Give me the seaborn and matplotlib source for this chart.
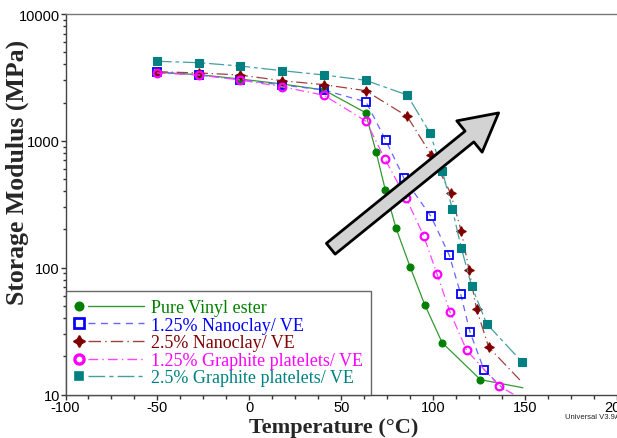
import numpy as np
import pandas as pd
import seaborn as sns
import matplotlib
matplotlib.use("Agg")
import matplotlib.pyplot as plt
from matplotlib.lines import Line2D
from matplotlib.legend_handler import HandlerLine2D
from matplotlib.ticker import MultipleLocator, LogLocator, NullFormatter, FixedLocator, FixedFormatter

# ---------------- data ----------------
series_names = ["Pure Vinyl ester", "1.25% Nanoclay/ VE", "2.5% Nanoclay/ VE",
                "1.25% Graphite platelets/ VE", "2.5% Graphite platelets/ VE"]

pure_T = [-50.4, -27.4, -5.2, 17.7, 40.5, 63.2, 68.9, 74.0, 79.8, 87.5, 95.4, 104.9, 125.7, 148.8]
pure_E = [3472, 3325, 3076, 2808, 2518, 1668, 822, 409, 205, 101, 51.1, 25.6, 13.1, 11.3]

nc125_T = [-50.4, -27.4, -5.2, 17.7, 40.5, 63.5, 74.2, 84.1, 98.8, 108.8, 114.9, 120.0, 127.6, 139.8]
nc125_E = [3472, 3306, 3036, 2758, 2518, 2026, 1011, 507, 254, 125, 62.5, 31.2, 15.7, 10.5]

nc25_T = [-50.4, -27.4, -5.2, 17.7, 40.5, 63.2, 85.8, 99.0, 109.5, 115.3, 119.5, 123.6, 130.2, 148.1]
nc25_E = [3510, 3428, 3306, 2980, 2773, 2486, 1563, 774, 386, 194, 96.1, 47.1, 23.6, 12.6]

gp125_T = [-50.4, -27.4, -5.2, 17.7, 40.5, 63.5, 73.8, 85.1, 94.8, 102.1, 109.2, 118.2, 135.9, 145.9]
gp125_E = [3428, 3306, 3020, 2673, 2288, 1427, 716, 357, 179, 88.9, 44.6, 22.3, 11.7, 9.6]

gp25_T = [-50.4, -27.4, -5.2, 17.7, 40.5, 63.2, 85.8, 98.3, 105.0, 110.4, 115.3, 120.9, 129.1, 148.3]
gp25_E = [4240, 4130, 3890, 3575, 3306, 3003, 2300, 1154, 576, 291, 143, 71.9, 36.1, 18.1]

# number of symbol points in each series (the last point only ends the curve)
n_marks = [13, 13, 13, 13, 14]

x_ticks = [-100, -50, 0, 50, 100, 150, 200]
y_ticks = [10, 100, 1000, 10000]
y_tick_labels = ["10", "100", "1000", "10000"]

arrow_tail = (44.3, 141)
arrow_tip = (135.6, 1660)

# ---------------- styles ----------------
sns.set_theme(style="ticks")
plt.rcParams["font.family"] = ["Liberation Sans", "DejaVu Sans"]
plt.rcParams["axes.unicode_minus"] = False

styles = [
    dict(line="#339933", ls="-", marker="o", mfc="#008000", mec="#008000", ms=5.0, mew=0.8),
    dict(line="#6666ff", ls=(0, (5, 4)), marker="s", mfc="none", mec="#0000ff", ms=5.5, mew=1.3),
    dict(line="#a04040", ls=(0, (9, 3, 1, 3)), marker=(4, 1, 0), mfc="#800000", mec="#800000", ms=7, mew=0.8),
    dict(line="#ff44ff", ls=(0, (7, 3, 1, 3)), marker="o", mfc="none", mec="#ff00ff", ms=5.5, mew=1.6),
    dict(line="#44a0a0", ls=(0, (12, 3, 3, 3)), marker="s", mfc="#008080", mec="#008080", ms=5.2, mew=0.8),
]
text_colors = ["#008000", "#0000ff", "#800000", "#ff00ff", "#008080"]

all_T = [pure_T, nc125_T, nc25_T, gp125_T, gp25_T]
all_E = [pure_E, nc125_E, nc25_E, gp125_E, gp25_E]

fig = plt.figure(figsize=(6.17, 4.39), dpi=100)
ax = fig.add_axes([65.5 / 617, 1 - 395.5 / 439, 1 - 65.5 / 617, (395.5 - 15) / 439])

for name, T, E, st, nm in zip(series_names, all_T, all_E, styles, n_marks):
    df = pd.DataFrame({"T": T, "E": E})
    sns.lineplot(data=df, x="T", y="E", ax=ax, estimator=None, sort=False,
                 color=st["line"], linestyle=st["ls"], linewidth=0.9,
                 marker=st["marker"], markersize=st["ms"],
                 markerfacecolor=st["mfc"], markeredgecolor=st["mec"],
                 markeredgewidth=st["mew"], markevery=list(range(nm)),
                 zorder=3)

ax.set_yscale("log")
ax.set_xlim(-100, 200)
ax.set_ylim(10, 10000)

ax.xaxis.set_major_locator(FixedLocator(x_ticks))
ax.xaxis.set_minor_locator(MultipleLocator(12.5))
ax.yaxis.set_major_locator(FixedLocator(y_ticks))
ax.yaxis.set_major_formatter(FixedFormatter(y_tick_labels))
ax.yaxis.set_minor_locator(LogLocator(base=10, subs=np.arange(2, 10)))
ax.yaxis.set_minor_formatter(NullFormatter())

ax.tick_params(axis="both", which="major", direction="out", length=3.5, width=1,
               color="#333333", labelsize=10.5, labelcolor="black", pad=0.5)
ax.tick_params(axis="both", which="minor", direction="out", length=3.0, width=1, color="#333333")
ax.tick_params(axis="y", which="minor", length=2.5)

for s in ["left", "bottom"]:
    ax.spines[s].set_color("#444444")
    ax.spines[s].set_linewidth(1.0)
ax.spines["top"].set_color("#777777")
ax.spines["top"].set_linewidth(1.0)
ax.spines["right"].set_visible(False)

ax.set_xlabel("Temperature (°C)", family=["Liberation Serif", "DejaVu Serif"],
              fontweight="bold", fontsize=16)
ax.set_ylabel("Storage Modulus (MPa)", family=["Liberation Serif", "DejaVu Serif"],
              fontweight="bold", fontsize=18.5)
ax.xaxis.set_label_coords((334 - 65.5) / (617 - 65.5), -0.058)
ax.yaxis.set_label_coords(-0.066, (395.5 - 172) / (395.5 - 15))

# arrow
ax.annotate("", xy=arrow_tip, xytext=arrow_tail,
            arrowprops=dict(arrowstyle="simple,head_length=2.7,head_width=2.9,tail_width=1.0",
                            mutation_scale=10, fc="#d3d3d3", ec="black", lw=2,
                            shrinkA=0, shrinkB=0), zorder=5)


class MarkerLeftHandler(HandlerLine2D):
    def create_artists(self, legend, orig_handle, xdescent, ydescent, width, height,
                       fontsize, trans):
        yc = height / 2.0 - ydescent
        x0 = -xdescent
        line = Line2D([x0 + width * 0.2, x0 + width], [yc, yc])
        self.update_prop(line, orig_handle, legend)
        line.set_marker("None")
        mk = Line2D([x0 + width * 0.07], [yc])
        self.update_prop(mk, orig_handle, legend)
        mk.set_linestyle("None")
        line.set_transform(trans)
        mk.set_transform(trans)
        return [line, mk]


handles = [Line2D([], [], color=st["line"], linestyle=st["ls"], linewidth=1.0,
                  marker=st["marker"], markersize=st["ms"] * 1.2, markerfacecolor=st["mfc"],
                  markeredgecolor=st["mec"], markeredgewidth=st["mew"] * 1.5)
           for st in styles]
leg = ax.legend(handles, series_names, loc="lower left", bbox_to_anchor=(0, 0),
                borderaxespad=0, frameon=True, fancybox=False, edgecolor="#444444",
                prop=dict(family=["Liberation Serif", "DejaVu Serif"], size=13),
                handlelength=3.9, handletextpad=0.4, labelspacing=0.03,
                borderpad=0.45, labelcolor=text_colors,
                handler_map={Line2D: MarkerLeftHandler()})
leg.get_frame().set_linewidth(1.0)
leg.set_zorder(6)

fig.text(565 / 617, 1 - 418 / 439, "Universal V3.9A", fontsize=5.5,
         ha="left", va="center", color="#222222")

fig.savefig("out.png", dpi=100)
